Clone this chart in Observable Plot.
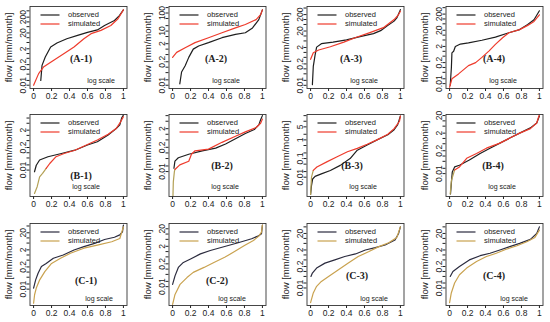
<!DOCTYPE html>
<html><head><meta charset="utf-8">
<script src="https://cdn.jsdelivr.net/npm/d3@7"></script>
<script src="https://cdn.jsdelivr.net/npm/@observablehq/plot@0.6"></script>
<style>
body{margin:0;background:#fff;}
#chart{position:relative;width:550px;height:322px;overflow:hidden;background:#fff;}
#chart svg{position:absolute;}
</style></head><body><div id="chart"></div>
<script>
// ---------- data: [exceedance fraction, flow mm/month] ----------
const A1_observed = [[0.08,0.02],[0.094,0.18],[0.13,0.6],[0.19,2.6],[0.26,4.6],[0.37,8.6],[0.49,14],[0.6,22],[0.71,31],[0.79,59],[0.9,123],[0.955,250],[1,575]];
const A1_simulated = [[0,0.01],[0.056,0.054],[0.11,0.14],[0.22,0.37],[0.34,1],[0.45,2.6],[0.56,8.6],[0.64,18],[0.75,29],[0.86,59],[0.94,157],[1,575]];
const A2_observed = [[0.08,0.012],[0.1,0.054],[0.14,0.12],[0.18,0.35],[0.23,1],[0.29,1.5],[0.4,2.3],[0.55,4.3],[0.7,6.6],[0.81,8.1],[0.89,15],[0.96,43],[1,150]];
const A2_simulated = [[0,0.35],[0.045,0.66],[0.14,1.2],[0.25,2.3],[0.4,4.3],[0.55,8.1],[0.7,15],[0.81,23],[0.93,43],[0.98,81],[1,150]];
const A3_observed = [[0.02,0.011],[0.03,0.14],[0.05,0.68],[0.067,2.1],[0.12,3.4],[0.25,4.2],[0.4,5.8],[0.55,9.1],[0.7,14],[0.78,21],[0.85,41],[0.93,80],[0.96,125],[1,400]];
const A3_simulated = [[0,0.38],[0.03,0.95],[0.09,1.4],[0.22,2.2],[0.37,4.2],[0.51,8.3],[0.66,16],[0.81,32],[0.93,100],[0.98,200],[1,320]];
const A4_observed = [[0.007,0.008],[0.02,0.1],[0.026,0.8],[0.045,1.0],[0.064,2],[0.12,2.8],[0.21,3.3],[0.36,4.8],[0.51,7.6],[0.66,14],[0.78,22],[0.87,45],[0.94,90],[1,320]];
const A4_simulated = [[0,0.006],[0.026,0.02],[0.1,0.04],[0.21,0.13],[0.29,0.2],[0.36,0.42],[0.44,1.07],[0.51,2.7],[0.59,6.9],[0.66,14],[0.78,22],[0.87,40],[0.94,70],[1,180]];
const B1_observed = [[0.01,0.008],[0.03,0.019],[0.067,0.038],[0.16,0.059],[0.31,0.09],[0.46,0.14],[0.6,0.28],[0.71,0.43],[0.83,1.05],[0.92,2.5],[0.96,4],[0.98,10],[1,15]];
const B1_simulated = [[0.01,0.00045],[0.04,0.0011],[0.067,0.0041],[0.1,0.0064],[0.14,0.0125],[0.18,0.024],[0.25,0.059],[0.34,0.09],[0.46,0.14],[0.6,0.3],[0.71,0.54],[0.83,1.15],[0.92,2.5],[0.97,6.2],[1,12]];
const B2_observed = [[0.015,0.015],[0.026,0.036],[0.064,0.055],[0.18,0.085],[0.33,0.13],[0.48,0.18],[0.59,0.3],[0.7,0.57],[0.81,1.1],[0.91,1.8],[0.96,3.2],[0.98,6],[1,10]];
const B2_simulated = [[0.004,0.0005],[0.008,0.0028],[0.02,0.01],[0.026,0.013],[0.08,0.023],[0.18,0.036],[0.21,0.085],[0.25,0.13],[0.4,0.16],[0.55,0.37],[0.7,0.78],[0.81,1.35],[0.93,2.3],[0.98,3.9],[1,6.5]];
const B3_observed = [[0,0.0012],[0.01,0.0035],[0.023,0.008],[0.05,0.011],[0.12,0.015],[0.22,0.023],[0.33,0.043],[0.44,0.1],[0.52,0.28],[0.63,0.53],[0.74,1],[0.86,1.9],[0.93,3.5],[0.97,6.6],[1,19]];
const B3_simulated = [[0,0.0012],[0.01,0.01],[0.03,0.023],[0.07,0.035],[0.18,0.066],[0.29,0.12],[0.41,0.23],[0.52,0.35],[0.63,0.58],[0.74,1],[0.86,2],[0.93,4],[0.99,10],[1,19]];
const B4_observed = [[0.01,0.0007],[0.03,0.0125],[0.056,0.024],[0.11,0.03],[0.22,0.059],[0.34,0.14],[0.45,0.28],[0.56,0.54],[0.67,1.05],[0.78,2],[0.9,4],[0.97,7.6],[1,19]];
const B4_simulated = [[0.007,0.0007],[0.02,0.004],[0.056,0.016],[0.11,0.024],[0.19,0.074],[0.3,0.14],[0.41,0.28],[0.56,0.54],[0.67,1.05],[0.78,2],[0.9,3.6],[0.97,7.6],[1,23]];
const C1_observed = [[0,0.0115],[0.023,0.035],[0.05,0.085],[0.087,0.21],[0.14,0.32],[0.22,0.64],[0.33,1],[0.45,1.95],[0.56,3.1],[0.68,4.8],[0.79,8.1],[0.9,11],[0.96,15],[0.99,23],[1,56]];
const C1_simulated = [[0,0.0015],[0.011,0.0047],[0.03,0.0115],[0.068,0.035],[0.125,0.107],[0.2,0.32],[0.3,0.64],[0.41,1.26],[0.56,2.5],[0.71,3.8],[0.87,6],[0.96,9.3],[1,45]];
const C2_observed = [[0,0.0135],[0.027,0.041],[0.064,0.125],[0.12,0.24],[0.2,0.38],[0.31,0.74],[0.42,1.15],[0.58,1.95],[0.73,3.2],[0.88,5.4],[0.95,7.6],[0.99,10.5],[1,32]];
const C2_simulated = [[0,0.00096],[0.027,0.0036],[0.083,0.0135],[0.16,0.033],[0.23,0.065],[0.35,0.125],[0.46,0.24],[0.58,0.47],[0.69,1],[0.8,2.2],[0.9,4.3],[0.96,7.6],[0.99,13],[1,32]];
const C3_observed = [[0.004,0.05],[0.02,0.08],[0.067,0.16],[0.16,0.32],[0.27,0.5],[0.38,0.8],[0.5,1.15],[0.61,2],[0.72,2.75],[0.83,4],[0.94,8],[0.98,20],[1,50]];
const C3_simulated = [[0,0.0013],[0.03,0.005],[0.067,0.0126],[0.12,0.025],[0.2,0.05],[0.31,0.126],[0.42,0.32],[0.53,0.8],[0.65,1.6],[0.76,3.2],[0.87,5.5],[0.96,11.5],[1,50]];
const C4_observed = [[0.007,0.05],[0.037,0.1],[0.11,0.2],[0.22,0.5],[0.34,0.9],[0.45,1.26],[0.56,2],[0.67,3.2],[0.78,5],[0.9,8.7],[0.97,20],[1,50]];
const C4_simulated = [[0,0.0013],[0.019,0.005],[0.056,0.02],[0.11,0.063],[0.19,0.16],[0.3,0.4],[0.41,0.8],[0.52,1.26],[0.63,2.2],[0.75,3.6],[0.86,6.3],[0.95,11.5],[1,32]];

// ---------- axes / labels ----------
const panelNames = ["(A-1)","(A-2)","(A-3)","(A-4)","(B-1)","(B-2)","(B-3)","(B-4)","(C-1)","(C-2)","(C-3)","(C-4)"];
const xTicks = [0, 0.2, 0.4, 0.6, 0.8, 1];
const yLabelsA = [0.01, 0.2, 2, 20, 200];
const yLabelsA2 = [0.01, 0.2, 2, 10, 100];
const yLabelsB = [0.01, 0.2, 2];
const yLabelsB3 = [0.01, 0.1, 1, 5];
const yLabelsBC = [0.01, 0.2, 2, 20];
const yMinorTicks = [0.01,0.02,0.05,0.1,0.2,0.5,1,2,5,10,20,50,100,200,500];
const seriesNames = ["observed", "simulated"];
const yTitle = "flow [mm/month]";
const note = "log scale";

// ---------- layout / style ----------
const W = 138, H = 108, ML = 29.5, MT = 6, BW = 97, BH = 82;
const colX = [0, 138.6, 277.3, 416.4], rowY = [0, 108.2, 217.2];
const red = "#ee3b2c", olive = "#b3a055", tan = "#c9a24f";
const panels = [
  {obs:A1_observed, sim:A1_simulated, dom:[0.0062,940], lab:yLabelsA, name:[51,52], note:[71,74]},
  {obs:A2_observed, sim:A2_simulated, dom:[0.0066,230], lab:yLabelsA2, name:[47,52], note:[57,74]},
  {obs:A3_observed, sim:A3_simulated, dom:[0.0064,620], lab:yLabelsA, name:[44,52], note:[57,74]},
  {obs:A4_observed, sim:A4_simulated, dom:[0.005,590], lab:yLabelsA, name:[48,52], note:[57,74]},
  {obs:B1_observed, sim:B1_simulated, dom:[0.0003,16], lab:yLabelsB, name:[51,61], note:[56,72]},
  {obs:B2_observed, sim:B2_simulated, dom:[0.00046,11.5], lab:yLabelsB, name:[53,51], note:[56,72]},
  {obs:B3_observed, sim:B3_simulated, dom:[0.00092,23], lab:yLabelsB3, name:[45,51], note:[56,72]},
  {obs:B4_observed, sim:B4_simulated, dom:[0.0005,23], lab:yLabelsBC, name:[47,51], note:[56,72]},
  {obs:C1_observed, sim:C1_simulated, dom:[0.0011,70], lab:yLabelsBC, name:[56,57], note:[69,75]},
  {obs:C2_observed, sim:C2_simulated, dom:[0.00084,40], lab:yLabelsBC, name:[48,57], note:[63,75]},
  {obs:C3_observed, sim:C3_simulated, dom:[0.00087,80], lab:yLabelsBC, name:[50,52], note:[67,75]},
  {obs:C4_observed, sim:C4_simulated, dom:[0.00087,80], lab:yLabelsBC, name:[48,52], note:[68,75]}
];

function splitAt(points, thr) {
  const low = [], high = [];
  points.forEach((p, i) => {
    if (p[1] < thr) { low.push(p); if (i + 1 < points.length && points[i+1][1] >= thr) low.push(points[i+1]); }
    else high.push(p);
  });
  return [low, high];
}

const chart = document.getElementById("chart");
const sans = "'Liberation Sans', Arial, Helvetica, sans-serif";
const LW = 1.2;
panels.forEach((p, i) => {
  const row = Math.floor(i / 4), col = i % 4;
  const obsColor = row === 2 ? "#2b2b3e" : "#1e1e1e";
  const simColor = row === 2 ? tan : red;
  const minor = yMinorTicks.filter(t => t >= 0.01 && t <= p.dom[1]);
  const xd = [-0.04, 1.04];
  const px2x = px => xd[0] + px / BW * (xd[1] - xd[0]);
  const simMarks = row === 1
    ? (() => { const [lo, hi] = splitAt(p.sim, 0.012);
        return [Plot.line(lo, {x: d => d[0], y: d => d[1], stroke: olive, strokeWidth: LW}),
                Plot.line(hi, {x: d => d[0], y: d => d[1], stroke: red, strokeWidth: LW})]; })()
    : [Plot.line(p.sim, {x: d => d[0], y: d => d[1], stroke: simColor, strokeWidth: LW})];
  const svg = Plot.plot({
    width: W, height: H,
    marginLeft: ML, marginTop: MT, marginRight: W - ML - BW, marginBottom: H - MT - BH,
    x: {domain: xd, axis: null},
    y: {type: "log", domain: p.dom, axis: null},
    style: {fontFamily: sans, fontSize: "8.5px", background: "white", color: "#222", overflow: "visible"},
    marks: [
      Plot.axisX({ticks: xTicks, tickSize: 3, tickPadding: 1.5, tickFormat: d => String(d), label: null, fontSize: 8.5}),
      Plot.axisY({ticks: minor, tickSize: 3, tickFormat: () => "", label: null}),
      Plot.text(p.lab, {y: d => d, text: d => String(d), frameAnchor: "left", dx: -4.5, rotate: -90,
        textAnchor: "middle", lineAnchor: "bottom", fontSize: 8.5}),
      Plot.text([yTitle], {frameAnchor: "left", dx: -18.5, rotate: -90, textAnchor: "middle",
        lineAnchor: "bottom", fontSize: 9.5}),
      Plot.line(p.obs, {x: d => d[0], y: d => d[1], stroke: obsColor, strokeWidth: LW}),
      ...simMarks,
      Plot.ruleY([p.dom[1]], {x1: px2x(11), x2: px2x(30), dy: 8.5, stroke: obsColor, strokeWidth: LW}),
      Plot.ruleY([p.dom[1]], {x1: px2x(11), x2: px2x(30), dy: 17.5, stroke: simColor, strokeWidth: LW}),
      Plot.text([seriesNames[0]], {frameAnchor: "top-left", dx: 38, dy: 8.5, textAnchor: "start",
        lineAnchor: "middle", fontSize: 7.5}),
      Plot.text([seriesNames[1]], {frameAnchor: "top-left", dx: 38, dy: 17.5, textAnchor: "start",
        lineAnchor: "middle", fontSize: 7.5}),
      Plot.text([panelNames[i]], {frameAnchor: "top-left", dx: p.name[0], dy: p.name[1], textAnchor: "middle",
        lineAnchor: "middle", fontSize: 10, fontWeight: "bold", fontFamily: "'Liberation Serif', 'Times New Roman', serif"}),
      Plot.text([note], {frameAnchor: "top-left", dx: p.note[0], dy: p.note[1], textAnchor: "middle",
        lineAnchor: "middle", fontSize: 7}),
      Plot.frame({stroke: "#333", strokeWidth: 0.9})
    ]
  });
  svg.style.left = colX[col] + "px";
  svg.style.top = rowY[row] + "px";
  chart.appendChild(svg);
});
</script></body></html>
